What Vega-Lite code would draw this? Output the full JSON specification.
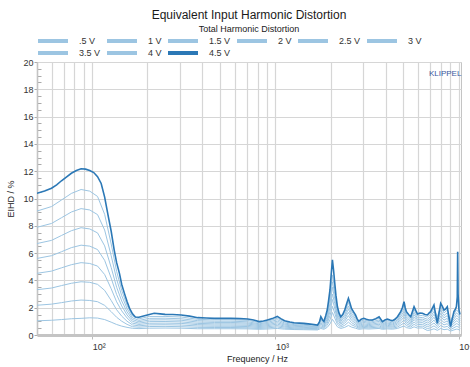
{
  "$schema": "https://vega.github.io/schema/vega-lite/v6.json",
  "width": 424,
  "height": 273,
  "autosize": {"type": "none"},
  "padding": {"left": 37, "top": 62, "right": 9, "bottom": 32},
  "background": "white",
  "title": {
    "text": "Equivalent Input Harmonic Distortion",
    "subtitle": "Total Harmonic Distortion",
    "fontSize": 12,
    "fontWeight": "normal",
    "font": "Liberation Sans",
    "subtitleFont": "Liberation Sans",
    "subtitleFontSize": 9,
    "color": "#1a1a1a",
    "subtitleColor": "#1a1a1a",
    "anchor": "middle",
    "offset": 1,
    "subtitlePadding": 3
  },
  "config": {
    "view": {"stroke": "#c4c4c4", "strokeWidth": 1},
    "font": "Liberation Sans"
  },
  "data": {
    "values": [
      {"f":50,"k1":1.04,"k2":2.18,"k3":3.32,"k4":4.52,"k5":5.61,"k6":6.70,"k7":7.89,"k8":9.08,"k9":10.38},
      {"f":55,"k9":10.55},
      {"f":60,"k1":1.08,"k2":2.26,"k3":3.44,"k4":4.68,"k5":5.81,"k6":6.93,"k7":8.17,"k8":9.41,"k9":10.75},
      {"f":64,"k9":11.0},
      {"f":68,"k1":1.13,"k2":2.37,"k3":3.62,"k4":4.92,"k5":6.10,"k6":7.29,"k7":8.59,"k8":9.89,"k9":11.3},
      {"f":72,"k9":11.55},
      {"f":77,"k1":1.19,"k2":2.49,"k3":3.79,"k4":5.15,"k5":6.40,"k6":7.64,"k7":9.01,"k8":10.37,"k9":11.85},
      {"f":82,"k9":12.05},
      {"f":87,"k1":1.22,"k2":2.56,"k3":3.90,"k4":5.30,"k5":6.58,"k6":7.86,"k7":9.26,"k8":10.66,"k9":12.18},
      {"f":92,"k9":12.15},
      {"f":97,"k1":1.26,"k2":2.53,"k3":3.86,"k4":5.24,"k5":6.51,"k6":7.77,"k7":9.16,"k8":10.54,"k9":12.05},
      {"f":102,"k9":11.9},
      {"f":107,"k1":1.24,"k2":2.44,"k3":3.71,"k4":5.05,"k5":6.26,"k6":7.48,"k7":8.82,"k8":10.15,"k9":11.6},
      {"f":112,"k9":11.1},
      {"f":117,"k1":1.13,"k2":2.17,"k3":3.27,"k4":4.43,"k5":5.47,"k6":6.53,"k7":7.69,"k8":8.84,"k9":10.1},
      {"f":122,"k9":8.8},
      {"f":127,"k1":0.94,"k2":1.71,"k3":2.53,"k4":3.39,"k5":4.17,"k6":4.95,"k7":5.81,"k8":6.67,"k9":7.6},
      {"f":132,"k9":6.2},
      {"f":136,"k1":0.77,"k2":1.30,"k3":1.85,"k4":2.43,"k5":2.96,"k6":3.50,"k7":4.08,"k8":4.66,"k9":5.3},
      {"f":141,"k9":4.5},
      {"f":145,"k1":0.65,"k2":1.01,"k3":1.38,"k4":1.77,"k5":2.13,"k6":2.49,"k7":2.88,"k8":3.27,"k9":3.7},
      {"f":150,"k9":3.05},
      {"f":155,"k1":0.56,"k2":0.78,"k3":1.01,"k4":1.25,"k5":1.47,"k6":1.70,"k7":1.94,"k8":2.18,"k9":2.45},
      {"f":160,"k9":1.95},
      {"f":166,"k1":0.49,"k2":0.61,"k3":0.74,"k4":0.87,"k5":1.00,"k6":1.13,"k7":1.26,"k8":1.40,"k9":1.55},
      {"f":172,"k9":1.32},
      {"f":180,"k1":0.47,"k2":0.57,"k3":0.67,"k4":0.77,"k5":0.87,"k6":0.97,"k7":1.07,"k8":1.18,"k9":1.3},
      {"f":193,"k9":1.41},
      {"f":205,"k1":0.50,"k2":0.62,"k3":0.74,"k4":0.86,"k5":0.98,"k6":1.10,"k7":1.22,"k8":1.36,"k9":1.5},
      {"f":218,"k9":1.59},
      {"f":235,"k9":1.55},
      {"f":250,"k1":0.51,"k2":0.63,"k3":0.75,"k4":0.87,"k5":0.99,"k6":1.11,"k7":1.23,"k8":1.36,"k9":1.51},
      {"f":275,"k9":1.5},
      {"f":306,"k1":0.50,"k2":0.61,"k3":0.73,"k4":0.85,"k5":0.96,"k6":1.08,"k7":1.19,"k8":1.32,"k9":1.46},
      {"f":340,"k9":1.38},
      {"f":377,"k1":0.46,"k2":0.56,"k3":0.66,"k4":0.76,"k5":0.85,"k6":0.95,"k7":1.05,"k8":1.15,"k9":1.27},
      {"f":420,"k9":1.24},
      {"f":464,"k1":0.46,"k2":0.55,"k3":0.64,"k4":0.73,"k5":0.82,"k6":0.92,"k7":1.01,"k8":1.11,"k9":1.22},
      {"f":520,"k9":1.23},
      {"f":572,"k1":0.46,"k2":0.55,"k3":0.64,"k4":0.73,"k5":0.82,"k6":0.92,"k7":1.01,"k8":1.11,"k9":1.22},
      {"f":640,"k9":1.2},
      {"f":706,"k1":0.45,"k2":0.53,"k3":0.62,"k4":0.71,"k5":0.80,"k6":0.88,"k7":0.97,"k8":1.07,"k9":1.17},
      {"f":760,"k9":1.1},
      {"f":815,"k1":0.42,"k2":0.48,"k3":0.55,"k4":0.62,"k5":0.69,"k6":0.76,"k7":0.82,"k8":0.90,"k9":0.98},
      {"f":860,"k9":1.02},
      {"f":905,"k1":0.44,"k2":0.52,"k3":0.60,"k4":0.68,"k5":0.76,"k6":0.84,"k7":0.92,"k8":1.00,"k9":1.1},
      {"f":960,"k9":1.2},
      {"f":1024,"k1":0.48,"k2":0.59,"k3":0.69,"k4":0.80,"k5":0.90,"k6":1.01,"k7":1.12,"k8":1.23,"k9":1.36},
      {"f":1070,"k9":1.2},
      {"f":1122,"k1":0.43,"k2":0.50,"k3":0.58,"k4":0.65,"k5":0.73,"k6":0.80,"k7":0.88,"k8":0.96,"k9":1.05},
      {"f":1200,"k9":0.95},
      {"f":1265,"k1":0.40,"k2":0.46,"k3":0.52,"k4":0.58,"k5":0.64,"k6":0.70,"k7":0.76,"k8":0.83,"k9":0.9},
      {"f":1350,"k9":0.87},
      {"f":1430,"k1":0.39,"k2":0.45,"k3":0.50,"k4":0.56,"k5":0.61,"k6":0.67,"k7":0.72,"k8":0.78,"k9":0.85},
      {"f":1550,"k9":0.8},
      {"f":1698,"k1":0.37,"k2":0.42,"k3":0.46,"k4":0.50,"k5":0.55,"k6":0.59,"k7":0.63,"k8":0.68,"k9":0.73},
      {"f":1740,"k9":0.95},
      {"f":1770,"k1":0.48,"k2":0.58,"k3":0.68,"k4":0.79,"k5":0.89,"k6":1.00,"k7":1.10,"k8":1.22,"k9":1.34},
      {"f":1810,"k9":1.1},
      {"f":1840,"k1":0.42,"k2":0.49,"k3":0.56,"k4":0.63,"k5":0.70,"k6":0.77,"k7":0.84,"k8":0.92,"k9":1.0},
      {"f":1880,"k9":1.4},
      {"f":1918,"k1":0.56,"k2":0.71,"k3":0.87,"k4":1.02,"k5":1.17,"k6":1.33,"k7":1.48,"k8":1.65,"k9":1.83},
      {"f":1950,"k9":2.5},
      {"f":1985,"k1":0.81,"k2":1.11,"k3":1.41,"k4":1.71,"k5":2.01,"k6":2.31,"k7":2.61,"k8":2.94,"k9":3.3},
      {"f":2015,"k9":4.4},
      {"f":2047,"k1":1.15,"k2":1.65,"k3":2.1,"k4":2.6,"k5":3.0,"k6":3.5,"k7":3.9,"k8":4.4,"k9":5.5},
      {"f":2075,"k9":4.8},
      {"f":2108,"k1":0.90,"k2":1.25,"k3":1.60,"k4":1.95,"k5":2.30,"k6":2.65,"k7":3.00,"k8":3.38,"k9":3.8},
      {"f":2140,"k9":2.9},
      {"f":2180,"k1":0.60,"k2":0.78,"k3":0.95,"k4":1.13,"k5":1.31,"k6":1.49,"k7":1.66,"k8":1.86,"k9":2.07},
      {"f":2225,"k9":1.6},
      {"f":2273,"k1":0.48,"k2":0.58,"k3":0.68,"k4":0.79,"k5":0.89,"k6":1.00,"k7":1.10,"k8":1.22,"k9":1.34},
      {"f":2330,"k9":1.5},
      {"f":2390,"k1":0.56,"k2":0.71,"k3":0.87,"k4":1.02,"k5":1.17,"k6":1.33,"k7":1.48,"k8":1.65,"k9":1.83},
      {"f":2450,"k9":2.3},
      {"f":2503,"k1":0.70,"k2":0.94,"k3":1.18,"k4":1.42,"k5":1.66,"k6":1.89,"k7":2.13,"k8":2.39,"k9":2.68},
      {"f":2550,"k9":2.35},
      {"f":2602,"k1":0.58,"k2":0.75,"k3":0.91,"k4":1.08,"k5":1.24,"k6":1.41,"k7":1.57,"k8":1.75,"k9":1.95},
      {"f":2670,"k9":1.7},
      {"f":2735,"k1":0.50,"k2":0.62,"k3":0.73,"k4":0.85,"k5":0.97,"k6":1.08,"k7":1.20,"k8":1.33,"k9":1.47},
      {"f":2790,"k9":1.2},
      {"f":2850,"k1":0.42,"k2":0.49,"k3":0.56,"k4":0.63,"k5":0.70,"k6":0.77,"k7":0.84,"k8":0.92,"k9":1.0},
      {"f":2940,"k9":1.15},
      {"f":3036,"k1":0.46,"k2":0.55,"k3":0.64,"k4":0.73,"k5":0.82,"k6":0.92,"k7":1.01,"k8":1.11,"k9":1.22},
      {"f":3135,"k9":1.15},
      {"f":3235,"k1":0.44,"k2":0.52,"k3":0.60,"k4":0.68,"k5":0.76,"k6":0.84,"k7":0.92,"k8":1.00,"k9":1.1},
      {"f":3387,"k9":1.1},
      {"f":3530,"k9":1.2},
      {"f":3679,"k1":0.48,"k2":0.58,"k3":0.68,"k4":0.79,"k5":0.89,"k6":1.00,"k7":1.10,"k8":1.22,"k9":1.34},
      {"f":3760,"k9":1.15},
      {"f":3838,"k1":0.42,"k2":0.48,"k3":0.55,"k4":0.62,"k5":0.69,"k6":0.76,"k7":0.82,"k8":0.90,"k9":0.98},
      {"f":3960,"k9":1.1},
      {"f":4087,"k1":0.45,"k2":0.53,"k3":0.62,"k4":0.71,"k5":0.80,"k6":0.88,"k7":0.97,"k8":1.07,"k9":1.17},
      {"f":4220,"k9":1.1},
      {"f":4355,"k1":0.43,"k2":0.50,"k3":0.58,"k4":0.65,"k5":0.73,"k6":0.80,"k7":0.88,"k8":0.96,"k9":1.05},
      {"f":4490,"k9":1.15},
      {"f":4635,"k1":0.48,"k2":0.58,"k3":0.68,"k4":0.79,"k5":0.89,"k6":1.00,"k7":1.10,"k8":1.22,"k9":1.34},
      {"f":4830,"k9":1.71},
      {"f":4930,"k9":2.0},
      {"f":5035,"k1":0.66,"k2":0.88,"k3":1.09,"k4":1.31,"k5":1.52,"k6":1.73,"k7":1.95,"k8":2.18,"k9":2.44},
      {"f":5110,"k9":2.0},
      {"f":5188,"k1":0.54,"k2":0.68,"k3":0.82,"k4":0.96,"k5":1.10,"k6":1.24,"k7":1.39,"k8":1.54,"k9":1.71},
      {"f":5330,"k9":1.5},
      {"f":5475,"k1":0.48,"k2":0.58,"k3":0.68,"k4":0.79,"k5":0.89,"k6":1.00,"k7":1.10,"k8":1.22,"k9":1.34},
      {"f":5590,"k9":1.7},
      {"f":5710,"k1":0.60,"k2":0.78,"k3":0.95,"k4":1.13,"k5":1.31,"k6":1.49,"k7":1.66,"k8":1.86,"k9":2.07},
      {"f":5830,"k9":1.8},
      {"f":5960,"k1":0.51,"k2":0.63,"k3":0.76,"k4":0.88,"k5":1.01,"k6":1.13,"k7":1.25,"k8":1.39,"k9":1.54},
      {"f":6150,"k9":1.6},
      {"f":6343,"k1":0.52,"k2":0.65,"k3":0.78,"k4":0.91,"k5":1.04,"k6":1.16,"k7":1.29,"k8":1.44,"k9":1.59},
      {"f":6550,"k9":1.5},
      {"f":6750,"k1":0.33,"k2":0.47,"k3":0.61,"k4":0.74,"k5":0.88,"k6":1.02,"k7":1.15,"k8":1.31,"k9":1.47},
      {"f":6890,"k9":1.6},
      {"f":7032,"k1":0.37,"k2":0.53,"k3":0.70,"k4":0.86,"k5":1.02,"k6":1.18,"k7":1.34,"k8":1.52,"k9":1.71},
      {"f":7180,"k9":1.95},
      {"f":7334,"k1":0.46,"k2":0.67,"k3":0.88,"k4":1.09,"k5":1.30,"k6":1.51,"k7":1.72,"k8":1.95,"k9":2.2},
      {"f":7490,"k9":1.5},
      {"f":7650,"k1":0.34,"k2":0.48,"k3":0.62,"k4":0.76,"k5":0.90,"k6":1.04,"k7":1.18,"k8":1.33,"k9":0.85},
      {"f":7810,"k9":1.6},
      {"f":7980,"k1":0.48,"k2":0.70,"k3":0.92,"k4":1.14,"k5":1.37,"k6":1.59,"k7":1.81,"k8":2.05,"k9":2.32},
      {"f":8150,"k9":2.1},
      {"f":8320,"k1":0.39,"k2":0.57,"k3":0.74,"k4":0.91,"k5":1.09,"k6":1.26,"k7":1.43,"k8":1.62,"k9":1.83},
      {"f":8490,"k9":1.9},
      {"f":8670,"k1":0.43,"k2":0.63,"k3":0.83,"k4":1.03,"k5":1.22,"k6":1.42,"k7":1.62,"k8":1.83,"k9":2.07},
      {"f":8850,"k9":1.3},
      {"f":9040,"k1":0.29,"k2":0.40,"k3":0.51,"k4":0.62,"k5":0.73,"k6":0.84,"k7":0.95,"k8":1.07,"k9":0.61},
      {"f":9230,"k9":1.2},
      {"f":9424,"k1":0.37,"k2":0.53,"k3":0.70,"k4":0.86,"k5":1.02,"k6":1.18,"k7":1.34,"k8":1.52,"k9":1.71},
      {"f":9600,"k9":1.9},
      {"f":9720,"k1":0.43,"k2":0.63,"k3":0.83,"k4":1.03,"k5":1.22,"k6":1.42,"k7":1.62,"k8":1.83,"k9":2.07},
      {"f":9830,"k9":2.8},
      {"f":9877,"k1":0.42,"k2":0.61,"k3":0.80,"k4":0.99,"k5":1.18,"k6":1.37,"k7":1.56,"k8":1.77,"k9":6.1},
      {"f":9930,"k9":3.0},
      {"f":10040,"k1":0.39,"k2":0.57,"k3":0.74,"k4":0.91,"k5":1.09,"k6":1.26,"k7":1.43,"k8":1.62,"k9":1.83},
      {"f":10170,"k1":0.34,"k2":0.48,"k3":0.62,"k4":0.76,"k5":0.90,"k6":1.04,"k7":1.18,"k8":1.33,"k9":1.5}
    ]
  },
  "encoding": {
    "x": {
      "field": "f", "type": "quantitative",
      "scale": {"type": "log", "domain": [50, 10300], "nice": false},
      "axis": {
        "values": [50,60,70,80,90,100,200,300,400,500,600,700,800,900,1000,2000,3000,4000,5000,6000,7000,8000,9000,10000],
        "labelExpr": "datum.value == 100 ? '10²' : datum.value == 1000 ? '10³' : datum.value == 10000 ? '10⁴' : ''",
        "labelAlign": "left",
        "labelFontSize": 9,
        "labelFont": "Liberation Sans",
        "labelColor": "#333333",
        "labelPadding": 3,
        "labelOverlap": false,
        "labelBound": false,
        "labelFlush": false,
        "tickSize": 4,
        "tickColor": "#bbbbbb",
        "tickOpacity": {"condition": {"test": "datum.value == 100 || datum.value == 1000 || datum.value == 10000", "value": 1}, "value": 0},
        "domainColor": "#c4c4c4",
        "domainWidth": 3,
        "gridColor": "#d6d6d6",
        "gridWidth": 1.2,
        "title": "Frequency / Hz",
        "titleFontSize": 9,
        "titleFontWeight": "normal",
        "titleFont": "Liberation Sans",
        "titleColor": "#222222",
        "titlePadding": 3,
        "titleX": 220
      }
    },
    "y": {
      "field": "v", "type": "quantitative",
      "scale": {"domain": [0, 20], "nice": false},
      "axis": {
        "values": [0,0.5,1,1.5,2,2.5,3,3.5,4,4.5,5,5.5,6,6.5,7,7.5,8,8.5,9,9.5,10,10.5,11,11.5,12,12.5,13,13.5,14,14.5,15,15.5,16,16.5,17,17.5,18,18.5,19,19.5,20],
        "labelExpr": "datum.value % 2 == 0 ? format(datum.value, 'd') : ''",
        "labelFontSize": 9,
        "labelFont": "Liberation Sans",
        "labelColor": "#333333",
        "labelPadding": 1,
        "labelOverlap": false,
        "labelFlush": false,
        "tickSize": {"condition": {"test": "datum.value % 2 == 0", "value": 3}, "value": -4},
        "tickColor": "#aaaaaa",
        "gridOpacity": {"condition": {"test": "datum.value % 2 == 0", "value": 1}, "value": 0},
        "gridColor": "#d6d6d6",
        "gridWidth": 1.2,
        "domainColor": "#c4c4c4",
        "domainWidth": 1.5,
        "title": "EIHD / %",
        "titleFontSize": 9,
        "titleFontWeight": "normal",
        "titleFont": "Liberation Sans",
        "titleColor": "#222222",
        "titlePadding": 7
      }
    }
  },
  "layer": [
    {
      "transform": [
        {"fold": ["k1","k2","k3","k4","k5","k6","k7","k8","k9"], "as": ["s","v"]},
        {"filter": "isValid(datum.v) && datum.s != 'k9'"}
      ],
      "mark": {"type": "line", "strokeWidth": 1, "clip": true},
      "encoding": {
        "color": {
          "field": "s", "type": "nominal",
          "scale": {
            "domain": ["k1","k2","k3","k4","k5","k6","k7","k8","k9"],
            "range": ["#9cc5e2","#9cc5e2","#9cc5e2","#9cc5e2","#9cc5e2","#9cc5e2","#9cc5e2","#9cc5e2","#2b78b6"]
          },
          "legend": {
            "orient": "none",
            "legendX": -1,
            "legendY": -26,
            "direction": "horizontal",
            "columns": 6,
            "title": null,
            "symbolType": "stroke",
            "symbolSize": 900,
            "symbolStrokeWidth": 4,
            "labelFontSize": 9,
            "labelFont": "Liberation Sans",
            "labelColor": "#333333",
            "labelOffset": 9,
            "columnPadding": 4,
            "rowPadding": 2,
            "clipHeight": 10,
            "labelExpr": "['.5 V','1 V','1.5 V','2 V','2.5 V','3 V','3.5 V','4 V','4.5 V'][indexof(['k1','k2','k3','k4','k5','k6','k7','k8','k9'], datum.label)]"
          }
        }
      }
    },
    {
      "transform": [
        {"fold": ["k1","k2","k3","k4","k5","k6","k7","k8","k9"], "as": ["s","v"]},
        {"filter": "isValid(datum.v) && datum.s == 'k9'"}
      ],
      "mark": {"type": "line", "strokeWidth": 1.6, "clip": true},
      "encoding": {
        "color": {"field": "s", "type": "nominal"}
      }
    },
    {
      "data": {"values": [{"t": "KLIPPEL", "f": 10350, "v": 19.15}]},
      "mark": {"type": "text", "align": "right", "baseline": "middle", "fontSize": 8, "font": "Liberation Sans", "color": "#3b58a0"},
      "encoding": {
        "text": {"field": "t"}
      }
    }
  ]
}
